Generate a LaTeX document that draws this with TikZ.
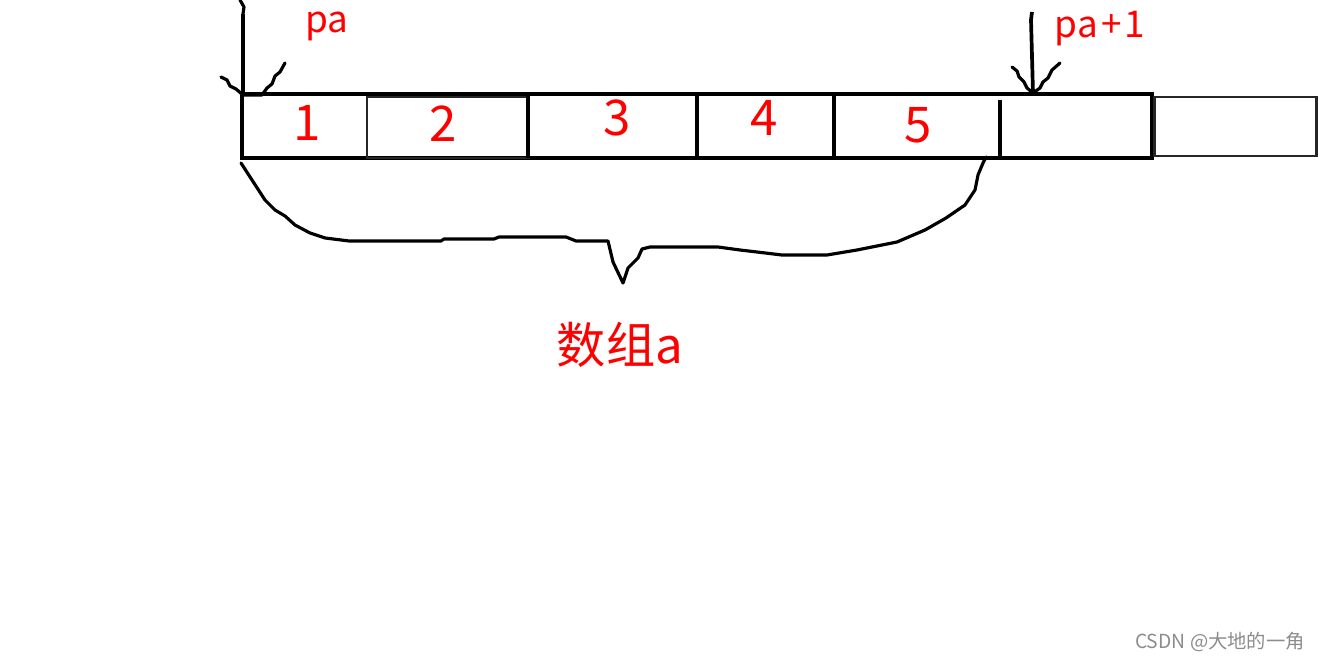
\documentclass[tikz,border=0pt]{standalone}
\usepackage{fontspec}
\setmainfont{Noto Sans CJK SC}
\usepackage{tikz}

\begin{document}
\begin{tikzpicture}[x=0.02cm, y=-0.02cm,
		stroke/.style={black, line width=2.1pt},
		thinstroke/.style={black!85, line width=1.7pt},
		hand/.style={black, line width=1.8pt, line join=round, line cap=round},
		digit/.style={red, font=\fontsize{28}{30}\selectfont},
		ptr/.style={red, font=\fontsize{21}{23}\selectfont}]
				\useasboundingbox (0,0) rectangle (1318,662);
				\draw[stroke] (242,94) rectangle (1152,158);
				\draw[thinstroke] (367,97) rectangle (528,158);
				\draw[stroke] (528,94) -- (528,158);
				\draw[stroke] (697,94) -- (697,158);
				\draw[stroke] (834,94) -- (834,158);
				\draw[stroke] (1000,100) -- (1000,158);
				\draw[thinstroke] (1154,97) rectangle (1316,156);
				\node[digit] (n1) at (307,123) {1};
				\node[digit] (n2) at (443,124) {2};
				\node[digit] (n3) at (617,118) {3};
				\node[digit] (n4) at (764,118) {4};
				\node[digit] (n5) at (918,125) {5};
				\coordinate (paTop) at (243,0);
				\coordinate (paTip) at (243,95);
				\draw[hand] (240,0) -- (244,7) -- (paTop |- 0,14);
				\draw[stroke] (paTop |- 0,14) -- (paTip);
				\draw[hand] (221,77) -- (227,80) -- (230,86) -- (236,89) -- (paTip) -- (262,95) -- (267,88) -- (272,84) -- (275,76) -- (280,72) -- (285,63);
				\node[ptr] (pa) at (327,26) {pa};
				\coordinate (pbTop) at (1032,12);
				\coordinate (pbTip) at (1033,93);
				\draw[stroke] (pbTop) -- (1031,20) -- (pbTip);
				\draw[hand] (1012,67) -- (1017,71) -- (1019,77) -- (1024,82) -- (1027,88) -- (pbTip) -- (1040,88) -- (1043,82) -- (1048,78) -- (1052,70) -- (1060,63);
				\node[ptr] (pb) at (1100,29) {pa\kern0.09em+\kern0.09em1};
				\draw[hand] (241,163) -- (252,180) -- (265,200) -- (275,210) -- (285,216) -- (295,225) -- (310,233) -- (325,238) -- (349,241)
					-- (441,241) -- (444,239) -- (494,239) -- (499,237) -- (566,237) -- (576,241) -- (608,241)
					-- (613,262) -- (623,283) -- (628,268) -- (638,258) -- (642,249) -- (650,247) -- (718,247)
					-- (740,250) -- (757,252) -- (782,255) -- (827,255) -- (857,250) -- (897,242) -- (925,230)
					-- (946,218) -- (965,205) -- (975,190) -- (978,175) -- (983,163) -- (986,157);
				\node[red, font=\fontsize{28}{30}\selectfont] (arr) at (620,345) {数组a};
				\node[black!45, font=\fontsize{11}{13}\selectfont] (mark) at (1220,642) {CSDN @大地的一角};
		\end{tikzpicture}
\end{document}
